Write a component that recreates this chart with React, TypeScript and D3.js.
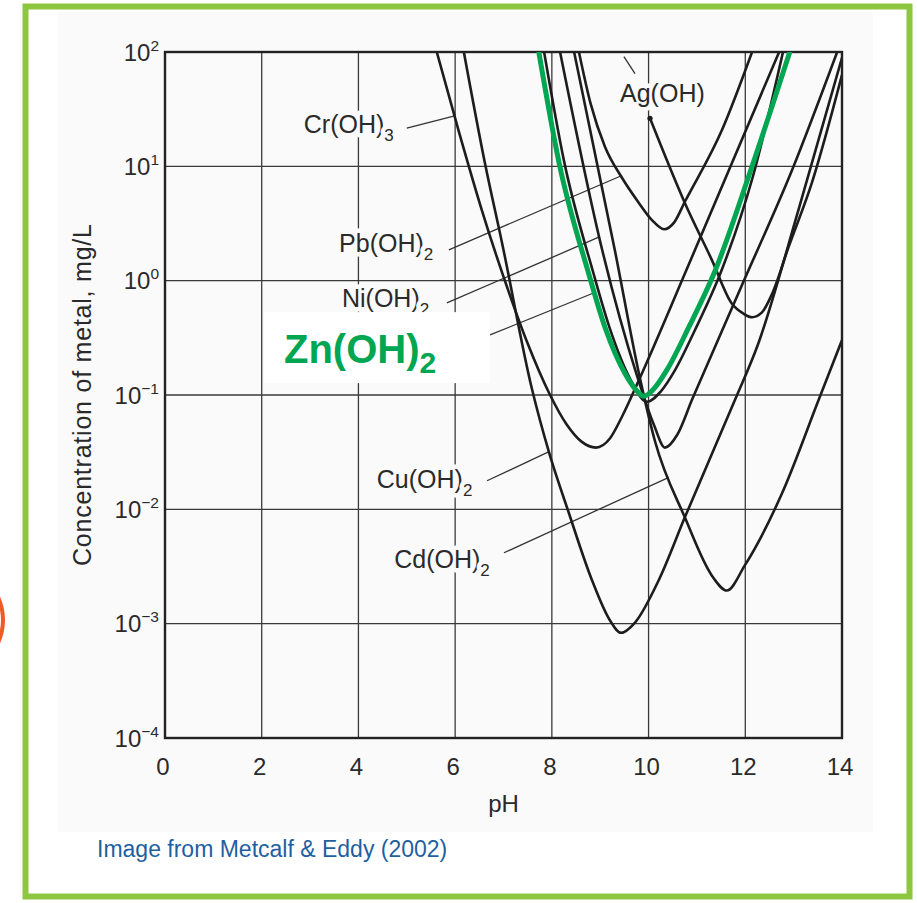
import React from 'react';
import * as d3 from 'd3';

const WIDTH = 917;
const HEIGHT = 903;

// axes
const phTicks = [0, 2, 4, 6, 8, 10, 12, 14];
const decadeTicks = [2, 1, 0, -1, -2, -3, -4];

// solubility curves: pH and log10 of metal concentration (mg/L)
const crPH = [5.62, 6.08, 6.55, 7.11, 7.5, 7.94, 8.31, 8.62, 8.91, 9.2, 9.45, 9.8, 10.84, 12.7];
const crLog = [2.0, 1.3, 0.62, -0.1, -0.55, -0.98, -1.26, -1.41, -1.46, -1.38, -1.19, -0.87, 0.15, 2.0];

const cuPH = [6.18, 6.62, 6.97, 7.59, 7.94, 8.35, 8.83, 9.2, 9.43, 9.72, 10.21, 10.75, 11.79, 12.26, 13.1, 14.0];
const cuLog = [2.0, 1.02, 0.33, -0.95, -1.5, -2.03, -2.62, -2.97, -3.08, -2.99, -2.62, -2.07, -1.04, -0.56, 0.62, 1.95];

const znBlackPH = [7.84, 8.25, 8.85, 9.2, 9.62, 9.97, 10.25, 10.55, 10.95, 11.5, 12.15, 12.78];
const znBlackLog = [2.0, 1.05, 0.08, -0.42, -0.86, -1.06, -0.97, -0.78, -0.44, 0.08, 0.9, 2.0];

const niPH = [8.17, 9.04, 9.76, 10.11, 10.34, 10.59, 10.9, 11.93, 12.97, 13.9];
const niLog = [2.0, 0.27, -0.83, -1.26, -1.46, -1.35, -1.04, -0.04, 0.97, 2.0];

const cdPH = [8.46, 9.31, 9.82, 10.13, 10.75, 11.31, 11.62, 11.99, 12.76, 13.52, 14.0];
const cdLog = [2.0, 0.25, -0.85, -1.4, -2.07, -2.58, -2.71, -2.49, -1.86, -1.04, -0.52];

const pbPH = [8.56, 8.8, 9.1, 9.45, 9.8, 10.07, 10.32, 10.53, 10.75, 11.52, 12.14];
const pbLog = [2.0, 1.55, 1.17, 0.9, 0.68, 0.53, 0.45, 0.51, 0.69, 1.32, 2.0];

const agPH = [10.03, 10.75, 11.31, 11.72, 11.97, 12.14, 12.34, 12.55, 12.9, 13.38, 14.0];
const agLog = [1.42, 0.68, 0.18, -0.2, -0.29, -0.32, -0.28, -0.12, 0.3, 0.86, 1.8];

// the highlighted zinc curve (drawn in green over the scan)
const znPH = [7.73, 8.15, 8.77, 9.1, 9.51, 9.75, 9.9, 10.1, 10.38, 10.84, 11.37, 12.1, 12.92];
const znLog = [2.0, 1.03, 0.05, -0.41, -0.81, -0.96, -1.01, -0.95, -0.78, -0.4, 0.08, 0.95, 2.0];

const blackCurves = [
  { ph: crPH, log: crLog },
  { ph: cuPH, log: cuLog },
  { ph: znBlackPH, log: znBlackLog },
  { ph: niPH, log: niLog },
  { ph: cdPH, log: cdLog },
  { ph: pbPH, log: pbLog },
  { ph: agPH, log: agLog },
];

// curve labels, placed in data units
const labelNames = ['Cr(OH)', 'Pb(OH)', 'Ni(OH)', 'Cu(OH)', 'Cd(OH)', 'Ag(OH)'];
const labelSubs = ['3', '2', '2', '2', '2', ''];
const labelPH = [2.87, 3.6, 3.66, 4.38, 4.74, 9.41];
const labelLog = [1.29, 0.25, -0.23, -1.81, -2.51, 1.56];
const leaderFrom: [number, number][] = [[5.0, 1.335], [5.87, 0.27], [5.83, -0.195], [6.66, -1.75], [7.01, -2.38], [9.49, 1.96]];
const leaderTo: [number, number][] = [[5.97, 1.44], [9.45, 0.92], [8.97, 0.38], [7.92, -1.5], [10.42, -1.72], [9.72, 1.81]];

const FONT = '"Liberation Sans", Arial, Helvetica, sans-serif';
const INK = '#1d1d1d';
const PAPER = '#fafafa';

export default function App() {
  const x = d3.scaleLinear().domain([0, 14]).range([165, 842]);
  const y = d3.scaleLog().domain([1e-4, 1e2]).range([738, 52]);
  const Y = (l: number) => y(Math.pow(10, l));

  const line = d3.line<[number, number]>()
    .x(d => x(d[0]))
    .y(d => Y(d[1]))
    .curve(d3.curveMonotoneX);

  const pts = (ph: number[], lg: number[]) => ph.map((p, i) => [p, lg[i]] as [number, number]);

  const x0 = x(0), x1 = x(14), yTop = Y(2), yBot = Y(-4);

  return (
    <svg width={WIDTH} height={HEIGHT} style={{ position: 'absolute', left: 0, top: 0, display: 'block' }} fontFamily={FONT}>
      <rect width={WIDTH} height={HEIGHT} fill="#fff" />
      <rect x={58} y={12} width={815} height={820} fill={PAPER} />
      <path d="M -2 597 Q 8 620 -2 643" fill="none" stroke="#f15a24" strokeWidth={4} />
      <rect x={25.5} y={6.5} width={884} height={890} fill="none" stroke="#8dc63f" strokeWidth={6} />

      <defs>
        <clipPath id="plot-clip">
          <rect x={x0} y={yTop} width={x1 - x0} height={yBot - yTop} />
        </clipPath>
      </defs>

      {/* grid */}
      {phTicks.slice(1, -1).map(t => (
        <line key={'gx' + t} x1={x(t)} x2={x(t)} y1={yTop} y2={yBot} stroke="#3a3a3a" strokeWidth={1.3} />
      ))}
      {decadeTicks.slice(1, -1).map(t => (
        <line key={'gy' + t} x1={x0} x2={x1} y1={Y(t)} y2={Y(t)} stroke="#3a3a3a" strokeWidth={1.3} />
      ))}

      {/* labels with a knock-out behind them */}
      {labelNames.map((n, i) => (
        <text key={n} x={x(labelPH[i])} y={Y(labelLog[i])} fontSize={25} fill="#2a2a2a"
          stroke={PAPER} strokeWidth={9} style={{ paintOrder: 'stroke' }} strokeLinejoin="round">
          {n}
          {labelSubs[i] && <tspan dy={8} fontSize={17}>{labelSubs[i]}</tspan>}
        </text>
      ))}
      {leaderFrom.map((f, i) => (
        <line key={'ld' + i} x1={x(f[0])} y1={Y(f[1])} x2={x(leaderTo[i][0])} y2={Y(leaderTo[i][1])}
          stroke="#333" strokeWidth={1.3} />
      ))}
      <line x1={x(6.72)} y1={Y(-0.475)} x2={x(8.85)} y2={Y(-0.11)} stroke="#333" strokeWidth={1.3} />

      {/* curves */}
      <g clipPath="url(#plot-clip)" fill="none" stroke={INK} strokeWidth={2.6} strokeLinejoin="round">
        {blackCurves.map((c, i) => (
          <path key={'c' + i} d={line(pts(c.ph, c.log)) || ''} />
        ))}
      </g>
      <circle cx={x(agPH[0])} cy={Y(agLog[0])} r={2.6} fill={INK} />

      {/* frame */}
      <rect x={x0} y={yTop} width={x1 - x0} height={yBot - yTop} fill="none" stroke="#222" strokeWidth={2.4} />

      {/* axes text */}
      {decadeTicks.map(t => (
        <text key={'ty' + t} x={x0 - 6} y={Y(t) + 8.5} textAnchor="end" fontSize={24} fill="#2a2a2a">
          10<tspan dy={-10} fontSize={15.5}>{t < 0 ? '\u2212' + -t : String(t)}</tspan>
        </text>
      ))}
      {phTicks.map(t => (
        <text key={'tx' + t} x={x(t) - 2} y={yBot + 37} textAnchor="middle" fontSize={24} fill="#2a2a2a">{t}</text>
      ))}
      <text x={(x0 + x1) / 2} y={yBot + 74} textAnchor="middle" fontSize={24} fill="#2a2a2a">pH</text>
      <text transform={`translate(${x0 - 74},${(yTop + yBot) / 2}) rotate(-90)`} textAnchor="middle"
        fontSize={25} fill="#2a2a2a" textLength={342} lengthAdjust="spacing">
        Concentration of metal, mg/L
      </text>

      {/* green highlight */}
      <path d={line(pts(znPH, znLog)) || ''} clipPath="url(#plot-clip)" fill="none" stroke="#00a651"
        strokeWidth={5} strokeLinecap="round" strokeLinejoin="round" />

      <rect x={x(2.05)} y={Y(-0.275)} width={x(6.72) - x(2.05)} height={Y(-0.896) - Y(-0.275)} fill="#fff" />
      <text x={x(2.46)} y={Y(-0.72)} fontSize={40} fontWeight="bold" fill="#00a651">
        Zn(OH)<tspan dy={10} fontSize={30}>2</tspan>
      </text>

      <text x={97} y={857} fontSize={23} fill="#1f5f9f">Image from Metcalf &amp; Eddy (2002)</text>
    </svg>
  );
}
